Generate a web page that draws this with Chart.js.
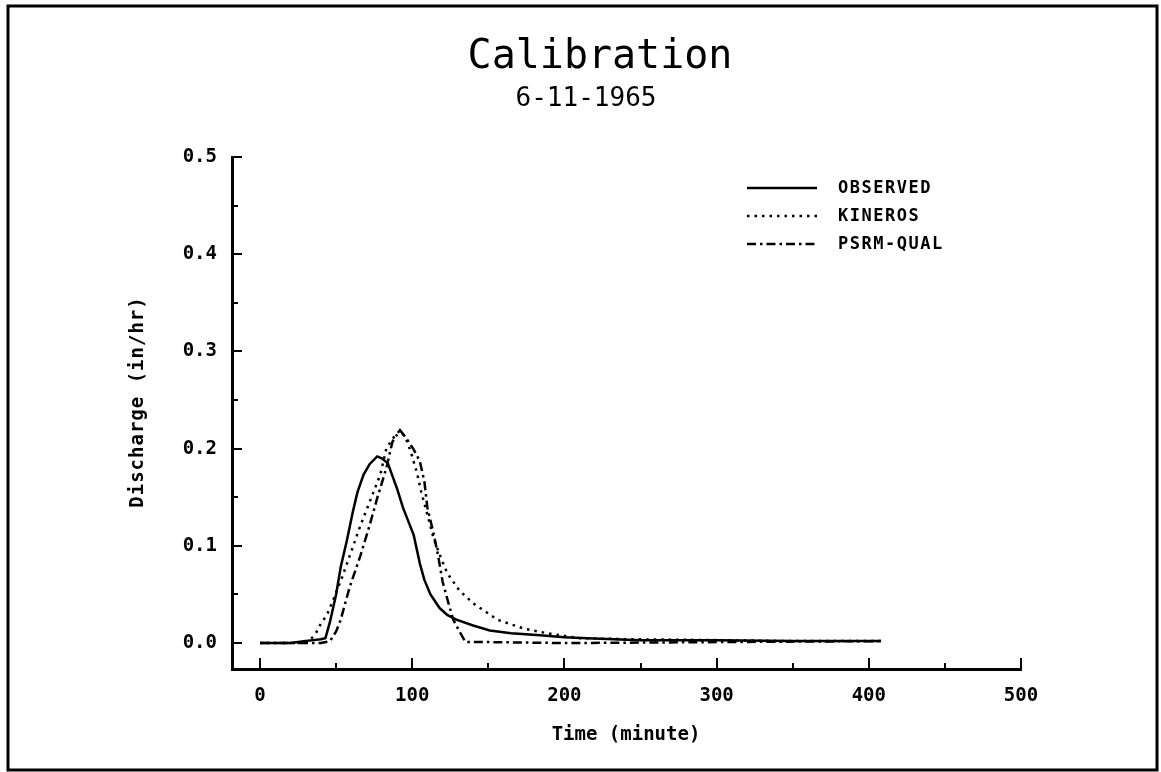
<!DOCTYPE html>
<html>
<head>
<meta charset="utf-8">
<title>Calibration</title>
<script src="https://cdn.jsdelivr.net/npm/chart.js@4.4.1/dist/chart.umd.min.js"></script>
<style>
  body { margin: 0; background: #fff; }
  #wrap { width: 1161px; height: 772px; }
</style>
</head>
<body>
<div id="wrap"><canvas id="myChart" width="1161" height="772"></canvas></div>
<script>
    // values (minutes / in/hr)
    var observedTime = [0, 10, 20, 25, 30, 35, 40, 43, 46, 50, 53, 57, 61, 64, 68, 72, 77, 80, 84, 87, 90, 94, 101, 105, 108, 112, 118, 123, 129, 140, 151, 165, 184, 200, 215, 250, 300, 350, 408]
    var observedFlow = [0, 0, 0, 0.001, 0.002, 0.003, 0.004, 0.005, 0.022, 0.05, 0.078, 0.105, 0.135, 0.155, 0.173, 0.184, 0.192, 0.19, 0.185, 0.172, 0.159, 0.139, 0.111, 0.082, 0.065, 0.05, 0.036, 0.029, 0.024, 0.018, 0.013, 0.01, 0.008, 0.006, 0.005, 0.003, 0.003, 0.002, 0.002]

    var kinerosTime = [0, 25, 30, 33, 37, 40, 44, 48, 54, 59, 66, 72, 79, 83, 87, 92, 96, 99, 103, 106, 110, 114, 119, 123, 131, 140, 156, 173, 189, 210, 240, 300, 350, 408]
    var kinerosFlow = [0, 0, 0.001, 0.003, 0.011, 0.02, 0.029, 0.044, 0.068, 0.09, 0.121, 0.145, 0.173, 0.2, 0.21, 0.219, 0.21, 0.197, 0.176, 0.155, 0.132, 0.108, 0.087, 0.072, 0.054, 0.041, 0.024, 0.015, 0.01, 0.005, 0.004, 0.003, 0.002, 0.002]

    var psrmTime = [0, 40, 46, 50, 53, 59, 66, 72, 77, 83, 87, 92, 96, 101, 105, 108, 110, 114, 117, 120, 124, 127, 131, 135, 150, 200, 300, 408]
    var psrmFlow = [0, 0, 0.002, 0.012, 0.024, 0.058, 0.09, 0.121, 0.149, 0.18, 0.207, 0.219, 0.211, 0.199, 0.187, 0.166, 0.139, 0.113, 0.09, 0.063, 0.04, 0.024, 0.012, 0.001, 0.001, 0, 0.001, 0.002]

    var seriesNames = ['OBSERVED', 'KINEROS', 'PSRM-QUAL']
    var xTickValues = [0, 100, 200, 300, 400, 500]
    var yTickValues = [0, 0.1, 0.2, 0.3, 0.4, 0.5]

    var monoFont = "'DejaVu Sans Mono', monospace"

    function pairs(xs, ys) {
        return xs.map(function(x, i) { return { x: x, y: ys[i] } })
    }

    var extras = {
        id: 'extras',
        afterDraw: function(chart) {
            var ctx = chart.ctx
            var xs = chart.scales.x
            var ys = chart.scales.y
            ctx.save()

            // page frame
            ctx.strokeStyle = '#000'
            ctx.lineWidth = 3
            ctx.strokeRect(8, 6, 1149, 764)

            // inward tick marks, majors longer
            ctx.lineWidth = 2
            ctx.beginPath()
            for (var v = 0; v <= 500; v += 50) {
                var px = Math.round(xs.getPixelForValue(v))
                ctx.moveTo(px, xs.top)
                ctx.lineTo(px, xs.top - (v % 100 === 0 ? 11 : 6))
            }
            for (var k = 0; k <= 10; k++) {
                var py = Math.round(ys.getPixelForValue(k * 0.05))
                ctx.moveTo(ys.right, py)
                ctx.lineTo(ys.right + (k % 2 === 0 ? 10 : 6), py)
            }
            ctx.stroke()

            // titles
            ctx.fillStyle = '#000'
            ctx.textAlign = 'center'
            ctx.textBaseline = 'alphabetic'
            ctx.font = '40px ' + monoFont
            ctx.fillText('Calibration', 600, 68)
            ctx.font = '26px ' + monoFont
            ctx.fillText('6-11-1965', 586, 106)

            ctx.textBaseline = 'middle'
            ctx.font = 'bold 19px ' + monoFont
            ctx.fillText('Time (minute)', 626, 735)
            ctx.save()
            ctx.translate(138, 402)
            ctx.rotate(-Math.PI / 2)
            ctx.letterSpacing = '1px'
            ctx.fillText('Discharge (in/hr)', 0, 0)
            ctx.restore()

            // legend
            var rows = [188, 216, 244]
            ctx.textAlign = 'left'
            ctx.font = 'bold 17px ' + monoFont
            ctx.letterSpacing = '1.5px'
            chart.data.datasets.forEach(function(ds, i) {
                ctx.beginPath()
                ctx.lineWidth = ds.borderWidth
                ctx.setLineDash(ds.borderDash || [])
                ctx.moveTo(747, rows[i])
                ctx.lineTo(817, rows[i])
                ctx.stroke()
                ctx.fillText(ds.label, 838, rows[i] + 1)
            })
            ctx.restore()
        }
    }

    var ctx = document.getElementById('myChart').getContext('2d')
    var myChart = new Chart(ctx, {
        type: 'line',
        data: {
            datasets: [{
                label: seriesNames[0],
                data: pairs(observedTime, observedFlow),
                borderColor: '#000',
                borderWidth: 2.5,
                pointRadius: 0,
                tension: 0
            }, {
                label: seriesNames[1],
                data: pairs(kinerosTime, kinerosFlow),
                borderColor: '#000',
                borderWidth: 2.5,
                borderDash: [2.5, 5],
                pointRadius: 0,
                tension: 0
            }, {
                label: seriesNames[2],
                data: pairs(psrmTime, psrmFlow),
                borderColor: '#000',
                borderWidth: 2.5,
                borderDash: [9, 4, 2.5, 4],
                pointRadius: 0,
                tension: 0
            }]
        },
        options: {
            responsive: false,
            animation: false,
            events: [],
            layout: {
                padding: { left: 8, right: 140, top: 157, bottom: 8 }
            },
            plugins: {
                legend: { display: false },
                tooltip: { enabled: false }
            },
            scales: {
                x: {
                    type: 'linear',
                    min: -18.4,
                    max: 500,
                    afterBuildTicks: function(scale) {
                        scale.ticks = xTickValues.map(function(v) { return { value: v } })
                    },
                    afterFit: function(scale) { scale.height = 95 },
                    grid: { display: false, drawTicks: false },
                    border: { display: true, color: '#000', width: 3 },
                    ticks: {
                        color: '#000',
                        padding: 16,
                        maxRotation: 0,
                        font: { family: monoFont, size: 19, weight: 'bold' }
                    }
                },
                y: {
                    min: -0.0267,
                    max: 0.5,
                    afterBuildTicks: function(scale) {
                        scale.ticks = yTickValues.map(function(v) { return { value: v } })
                    },
                    afterFit: function(scale) { scale.width = 224 },
                    grid: { display: false, drawTicks: false },
                    border: { display: true, color: '#000', width: 3 },
                    ticks: {
                        color: '#000',
                        padding: 15,
                        font: { family: monoFont, size: 19, weight: 'bold' },
                        callback: function(value) { return value.toFixed(1) }
                    }
                }
            }
        },
        plugins: [extras]
    })
</script>
</body>
</html>
